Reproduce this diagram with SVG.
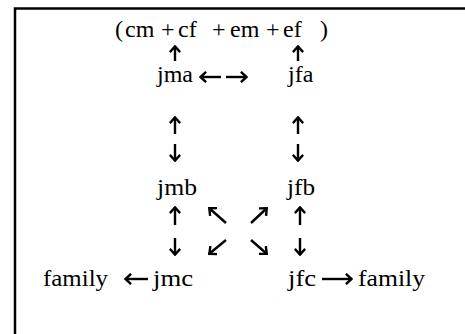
<svg xmlns="http://www.w3.org/2000/svg" width="465" height="334" viewBox="0 0 465 334">
<style>
text{font-family:"Liberation Serif","Times New Roman",serif;font-size:24px;fill:#000}
.c{fill:none;stroke:#000;stroke-width:2.4;marker-end:url(#ah)}
.frame{fill:none;stroke:#000;stroke-width:2.5}
</style>
<defs>
<marker id="ah" viewBox="0 0 10 12" refX="8.6" refY="6" markerWidth="10" markerHeight="12" markerUnits="userSpaceOnUse" orient="auto">
<path d="M2.5,0.8 L8.2,6 L2.5,11.2" fill="none" stroke="#000" stroke-width="2.4"/>
</marker>
</defs>
<rect width="465" height="334" fill="#fff"/>
<path class="frame" d="M15,334 V8.5 H465"/>
<g id="sum"><text y="37"><tspan x="115">(</tspan><tspan x="125">cm</tspan><tspan x="161">+</tspan><tspan x="178">cf</tspan><tspan x="212">+</tspan><tspan x="230">em</tspan><tspan x="266">+</tspan><tspan x="283">ef</tspan><tspan x="320">)</tspan></text></g>
<g id="jma"><text x="157" y="82">jma</text></g>
<g id="jfa"><text x="288" y="82">jfa</text></g>
<g id="jmb"><text x="157" y="195" textLength="40" lengthAdjust="spacingAndGlyphs">jmb</text></g>
<g id="jfb"><text x="287" y="195" textLength="28" lengthAdjust="spacingAndGlyphs">jfb</text></g>
<g id="jmc"><text x="153" y="286" textLength="40" lengthAdjust="spacingAndGlyphs">jmc</text></g>
<g id="jfc"><text x="288" y="286" textLength="28" lengthAdjust="spacingAndGlyphs">jfc</text></g>
<g id="family-left"><text x="43" y="286" textLength="65" lengthAdjust="spacingAndGlyphs">family</text></g>
<g id="family-right"><text x="358" y="286" textLength="67" lengthAdjust="spacingAndGlyphs">family</text></g>
<g id="connectors">
<path class="c" d="M175,61 V46"/>
<path class="c" d="M298,61 V46"/>
<path class="c" d="M221,77 H200"/>
<path class="c" d="M226,77 H247"/>
<path class="c" d="M175,134 V117"/>
<path class="c" d="M175,144 V161"/>
<path class="c" d="M298,134 V117"/>
<path class="c" d="M298,144 V161"/>
<path class="c" d="M175,225 V207"/>
<path class="c" d="M175,238 V255"/>
<path class="c" d="M300,225 V207"/>
<path class="c" d="M300,238 V255"/>
<path class="c" d="M226,223 L209,208"/>
<path class="c" d="M251,223 L267,208"/>
<path class="c" d="M226,240 L209,254"/>
<path class="c" d="M251,240 L267,254"/>
<path class="c" d="M148,279 H125"/>
<path class="c" d="M322,279 H352"/>
</g>
</svg>
